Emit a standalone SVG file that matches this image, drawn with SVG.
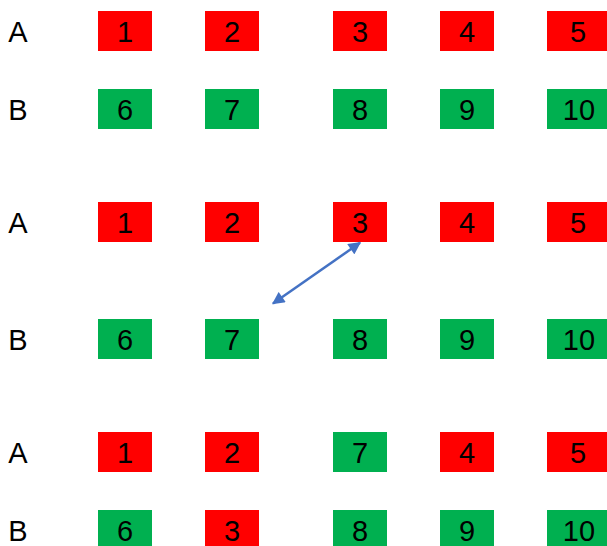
<svg xmlns="http://www.w3.org/2000/svg" width="607" height="546" viewBox="0 0 607 546">
<style>
.r{fill:#FF0000}
.g{fill:#00B050}
text{font-family:"Liberation Sans",Arial,sans-serif;font-size:29px;fill:#000;text-anchor:middle}
.ln{stroke:#4472C4;stroke-width:2.5;fill:none}
</style>
<defs>
<marker id="ah" viewBox="0 0 10 10" refX="9" refY="5" markerWidth="5.4" markerHeight="5" orient="auto-start-reverse" markerUnits="strokeWidth">
<path d="M0,0 L10,5 L0,10 z" fill="#4472C4"/>
</marker>
</defs>
<rect width="607" height="546" fill="#fff"/>
<g id="labels">
<text x="18" y="42">A</text>
<text x="18" y="120">B</text>
<text x="18" y="233">A</text>
<text x="18" y="350">B</text>
<text x="18" y="463">A</text>
<text x="18" y="541">B</text>
</g>
<g id="row1A">
<g id="n1a"><rect class="r" x="98" y="11" width="54" height="40"/><text x="125" y="42">1</text></g>
<g id="n2a"><rect class="r" x="205" y="11" width="54" height="40"/><text x="232" y="42">2</text></g>
<g id="n3a"><rect class="r" x="333" y="11" width="54" height="40"/><text x="360" y="42">3</text></g>
<g id="n4a"><rect class="r" x="440" y="11" width="54" height="40"/><text x="467" y="42">4</text></g>
<g id="n5a"><rect class="r" x="547" y="11" width="60" height="40"/><text x="578" y="42">5</text></g>
</g>
<g id="row1B">
<g id="n6a"><rect class="g" x="98" y="89" width="54" height="40"/><text x="125" y="120">6</text></g>
<g id="n7a"><rect class="g" x="205" y="89" width="54" height="40"/><text x="232" y="120">7</text></g>
<g id="n8a"><rect class="g" x="333" y="89" width="54" height="40"/><text x="360" y="120">8</text></g>
<g id="n9a"><rect class="g" x="440" y="89" width="54" height="40"/><text x="467" y="120">9</text></g>
<g id="n10a"><rect class="g" x="547" y="89" width="60" height="40"/><text x="579" y="120">10</text></g>
</g>
<g id="row2A">
<g id="n1b"><rect class="r" x="98" y="202" width="54" height="40"/><text x="125" y="233">1</text></g>
<g id="n2b"><rect class="r" x="205" y="202" width="54" height="40"/><text x="232" y="233">2</text></g>
<g id="n3b"><rect class="r" x="333" y="202" width="54" height="40"/><text x="360" y="233">3</text></g>
<g id="n4b"><rect class="r" x="440" y="202" width="54" height="40"/><text x="467" y="233">4</text></g>
<g id="n5b"><rect class="r" x="547" y="202" width="60" height="40"/><text x="578" y="233">5</text></g>
</g>
<g id="row2B">
<g id="n6b"><rect class="g" x="98" y="319" width="54" height="40"/><text x="125" y="350">6</text></g>
<g id="n7b"><rect class="g" x="205" y="319" width="54" height="40"/><text x="232" y="350">7</text></g>
<g id="n8b"><rect class="g" x="333" y="319" width="54" height="40"/><text x="360" y="350">8</text></g>
<g id="n9b"><rect class="g" x="440" y="319" width="54" height="40"/><text x="467" y="350">9</text></g>
<g id="n10b"><rect class="g" x="547" y="319" width="60" height="40"/><text x="579" y="350">10</text></g>
</g>
<g id="row3A">
<g id="n1c"><rect class="r" x="98" y="432" width="54" height="40"/><text x="125" y="463">1</text></g>
<g id="n2c"><rect class="r" x="205" y="432" width="54" height="40"/><text x="232" y="463">2</text></g>
<g id="n7c"><rect class="g" x="333" y="432" width="54" height="40"/><text x="360" y="463">7</text></g>
<g id="n4c"><rect class="r" x="440" y="432" width="54" height="40"/><text x="467" y="463">4</text></g>
<g id="n5c"><rect class="r" x="547" y="432" width="60" height="40"/><text x="578" y="463">5</text></g>
</g>
<g id="row3B">
<g id="n6c"><rect class="g" x="98" y="510" width="54" height="40"/><text x="125" y="541">6</text></g>
<g id="n3c"><rect class="r" x="205" y="510" width="54" height="40"/><text x="232" y="541">3</text></g>
<g id="n8c"><rect class="g" x="333" y="510" width="54" height="40"/><text x="360" y="541">8</text></g>
<g id="n9c"><rect class="g" x="440" y="510" width="54" height="40"/><text x="467" y="541">9</text></g>
<g id="n10c"><rect class="g" x="547" y="510" width="60" height="40"/><text x="579" y="541">10</text></g>
</g>
<g id="connectors">
<line class="ln" x1="360" y1="242.8" x2="273" y2="303.5" marker-start="url(#ah)" marker-end="url(#ah)"/>
</g>
</svg>
